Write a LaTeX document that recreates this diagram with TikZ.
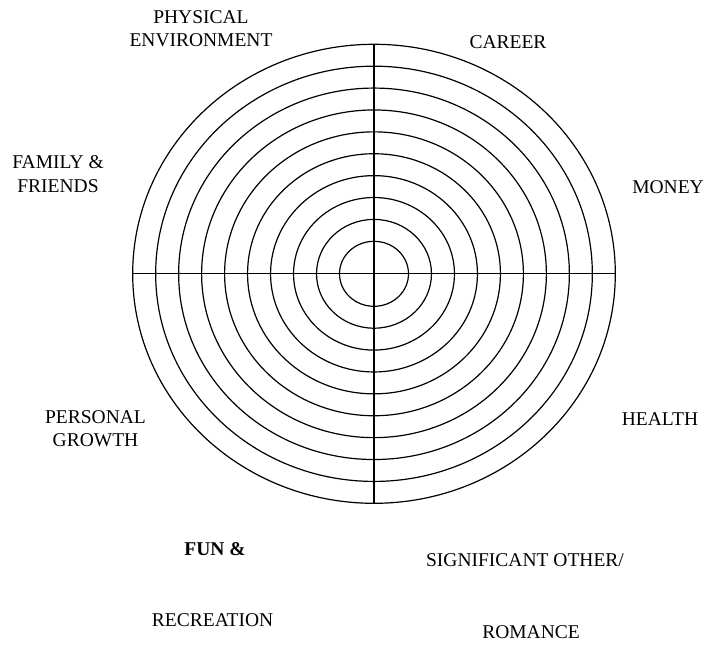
\documentclass[tikz,border=0pt]{standalone}
\usepackage{fontspec}
\setmainfont{Liberation Serif}
\usetikzlibrary{shapes.geometric}
\tikzset{
	every picture/.style={
		line width=1.2pt
}}

\begin{document}
\begin{tikzpicture}[x=1pt,y=-1pt]
\tikzstyle{ring}=[ellipse, draw=black, inner sep=0pt, outer sep=0pt]
\tikzstyle{area}=[inner sep=0pt, anchor=base, align=center, font=\fontsize{19.5}{23.5}\selectfont]
\useasboundingbox (0,0) rectangle (707,645);
% the ten rings
\foreach \i in {1,...,10}
	\node[ring, minimum width={2*(34.5+22.98*(\i-1))}, minimum height={2*(32.5+21.89*(\i-1))}] (ring\i) at (374,273.8) {};
\draw (ring10.west) -- (ring10.east);
\draw (ring10.north) -- (ring10.south);
% the areas of life (base = last line)
\node[area] (physical) at (201,46.7) {PHYSICAL\\ENVIRONMENT};
\node[area] (career) at (508,48.3) {CAREER};
\node[area] (family) at (58,192.3) {FAMILY \&\\FRIENDS};
\node[area] (money) at (668,193.7) {MONEY};
\node[area] (personal) at (95.5,446.7) {PERSONAL\\GROWTH};
\node[area] (health) at (660,425) {HEALTH};
\node[area] (fun) at (215,555.7) {\textbf{FUN \&}};
\node[area] (significant) at (525,566) {SIGNIFICANT OTHER/};
\node[area] (recreation) at (212.6,626.7) {RECREATION};
\node[area] (romance) at (531,638.3) {ROMANCE};
\end{tikzpicture}
\end{document}
